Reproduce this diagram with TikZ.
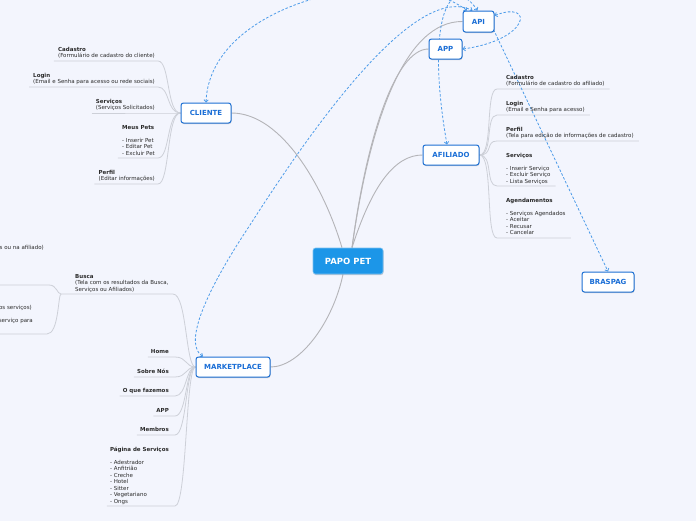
\documentclass[tikz,border=0pt]{standalone}
\usepackage{fontspec}
\setmainfont{DejaVu Sans}
\usetikzlibrary{arrows.meta,shadows,calc}
\definecolor{bgc}{HTML}{F3F5FD}
\definecolor{nodeb}{HTML}{1C6FD3}
\definecolor{nodet}{HTML}{1A6ED6}
\definecolor{rootc}{HTML}{1C96E8}
\definecolor{mainl}{HTML}{B4B4B8}
\definecolor{brl}{HTML}{CDD0D8}
\definecolor{relc}{HTML}{4C9BE9}
\definecolor{txtc}{HTML}{2A2A2A}
\pgfdeclarelayer{bg}
\pgfsetlayers{bg,main}
\tikzset{
 topic/.style={draw=nodeb, line width=1pt, fill=white, rounded corners=2.5pt, text=nodet,
   font=\fontsize{7}{8}\selectfont\bfseries, inner sep=0pt,
   drop shadow={shadow xshift=0.5pt, shadow yshift=-1pt, opacity=0.3, fill=black!60}},
 rootnode/.style={draw=rootc!60!white, line width=0.6pt, fill=rootc, rounded corners=2.5pt, text=white,
   font=\fontsize{8.5}{10}\selectfont\bfseries, inner sep=0pt,
   drop shadow={shadow xshift=0.5pt, shadow yshift=-1pt, opacity=0.3, fill=black!60}},
 txt/.style={font=\fontsize{5.5}{6.5}\selectfont, text=txtc, inner sep=0pt, align=left},
 mainedge/.style={draw=mainl, line width=0.9pt},
 brline/.style={draw=brl, line width=0.8pt},
 rel/.style={draw=relc, line width=0.8pt, dash pattern=on 2.5pt off 1.8pt},
 twoway/.style={{Straight Barb[length=2.2pt,width=4.4pt]}-{Straight Barb[length=2.2pt,width=4.4pt]}},
 oneway/.style={-{Straight Barb[length=2.2pt,width=4.4pt]}},
}
\begin{document}
\begin{tikzpicture}[x=1pt,y=-1pt]
\useasboundingbox (0,0) rectangle (696,520);

% ---------- main nodes
\node[rootnode, minimum width=70pt, minimum height=26pt] (pp) at (348,261) {PAPO PET};
\node[topic, minimum width=50pt, minimum height=20pt] (cli) at (206,113) {CLIENTE};
\node[topic, minimum width=74pt, minimum height=20pt] (mkt) at (233,367) {MARKETPLACE};
\node[topic, minimum width=56pt, minimum height=20pt] (afl) at (451,155) {AFILIADO};
\node[topic, minimum width=31pt, minimum height=21pt] (api) at (478.5,21.5) {API};
\node[topic, minimum width=33pt, minimum height=20pt] (app) at (445.5,49) {APP};
\node[topic, minimum width=52pt, minimum height=20pt] (brs) at (608,282) {BRASPAG};

% ---------- CLIENTE children
\node[txt, anchor=north east] (c1) at (155,46.8) {\textbf{Cadastro}\\(Formulário de cadastro do cliente)};
\node[txt, anchor=north east] (c2) at (155,72.8) {\textbf{Login}\\(Email e Senha para acesso ou rede sociais)};
\node[txt, anchor=north east] (c3) at (155,98.8) {\textbf{Serviços}\\(Serviços Solicitados)};
\node[txt, anchor=north east] (c4) at (155,124.8) {\textbf{Meus Pets}\\[6.5pt]- Inserir Pet\\- Editar Pet\\- Excluir Pet};
\node[txt, anchor=north east] (c5) at (155,169.8) {\textbf{Perfil}\\(Editar informações)};

% ---------- AFILIADO children
\node[txt, anchor=north west] (a1) at (506,74.8) {\textbf{Cadastro}\\(Formulário de cadastro do afiliado)};
\node[txt, anchor=north west] (a2) at (506,100.8) {\textbf{Login}\\(Email e Senha para acesso)};
\node[txt, anchor=north west] (a3) at (506,126.8) {\textbf{Perfil}\\(Tela para edição de informações de cadastro)};
\node[txt, anchor=north west] (a4) at (506,152.8) {\textbf{Serviços}\\[6.5pt]- Inserir Serviço\\- Excluir Serviço\\- Lista Serviços};
\node[txt, anchor=north west] (a5) at (506,197.8) {\textbf{Agendamentos}\\[6.5pt]- Serviços Agendados\\- Aceitar\\- Recusar\\- Cancelar};

% ---------- MARKETPLACE children
\node[txt, anchor=north west] (mb) at (75,273.8) {\textbf{Busca}\\(Tela com os resultados da Busca,\\Serviços ou Afiliados)};
\node[txt, anchor=north east] (m1) at (169,348.8) {\textbf{Home}};
\node[txt, anchor=north east] (m2) at (169,368.8) {\textbf{Sobre Nós}};
\node[txt, anchor=north east] (m3) at (169,387.8) {\textbf{O que fazemos}};
\node[txt, anchor=north east] (m4) at (169,407.8) {\textbf{APP}};
\node[txt, anchor=north east] (m5) at (169,426.8) {\textbf{Membros}};
\node[txt, anchor=north east] (m6) at (169,446.8) {\textbf{Página de Serviços}\\[6.5pt]- Adestrador\\- Anfitrião\\- Creche\\- Hotel\\- Sitter\\- Vegetariano\\- Ongs};

% ---------- Busca children (cut off at the left edge)
\node[txt, anchor=north east] (bx1) at (44,244.8) {s ou na afiliado)};
\node[txt, anchor=north east] (bx2) at (32,305.1) {os serviços)};
\node[txt, anchor=north east] (bx3) at (33,318.5) {serviço para};

% ---------- coordinates of underline ends
\coordinate (cu1) at (158,61);
\coordinate (cu2) at (158,87);
\coordinate (cu3) at (158,113);
\coordinate (cu4) at (158,158);
\coordinate (cu5) at (158,184);
\coordinate (au1) at (497,89);
\coordinate (au2) at (497,115);
\coordinate (au3) at (497,141);
\coordinate (au4) at (497,186);
\coordinate (au5) at (497,238);
\coordinate (mu1) at (175,357);
\coordinate (mu2) at (175,377);
\coordinate (mu3) at (175,396);
\coordinate (mu4) at (175,416);
\coordinate (mu5) at (175,435);
\coordinate (mu6) at (175,506);
\coordinate (bul) at (61,294);
\coordinate (bur) at (173,294);
\coordinate (bk1) at (49,285);
\coordinate (bk1w) at (-2,285);
\coordinate (bk2) at (47,334);
\coordinate (bk2w) at (-2,334);

\begin{pgfonlayer}{bg}
\fill[bgc] (-2,-2) rectangle (698,522);

% main edges
\draw[mainedge] ([xshift=-6pt]pp.north) .. controls (325,190) and (283,113) .. (cli.east);
\draw[mainedge] ([xshift=4pt]pp.north) .. controls (370,120) and (405,21) .. (api.west);
\draw[mainedge] ([xshift=4pt]pp.north) .. controls (366,140) and (395,49) .. (app.west);
\draw[mainedge] ([xshift=4pt]pp.north) .. controls (372,185) and (395,155) .. (afl.west);
\draw[mainedge] ([xshift=-5pt]pp.south) .. controls (333,322) and (300,367) .. (mkt.east);

% CLIENTE branches
\foreach \b/\u in {c1/cu1,c2/cu2,c3/cu3,c4/cu4,c5/cu5}{
  \draw[brline] ($(\b.west |- \u)+(-4,0)$) -- (\u) .. controls +(12,0) and +(-14,0) .. (cli.west);
}
% AFILIADO branches
\foreach \b/\u in {a1/au1,a2/au2,a3/au3,a4/au4,a5/au5}{
  \draw[brline] (afl.east) .. controls +(14,0) and +(-12,0) .. (\u) -- ($(\b.east |- \u)+(5,0)$);
}
% MARKETPLACE branches
\foreach \b/\u in {m1/mu1,m2/mu2,m3/mu3,m4/mu4,m5/mu5,m6/mu6}{
  \draw[brline] ($(\b.west |- \u)+(-3,0)$) -- (\u) .. controls +(12,0) and +(-10,0) .. (mkt.west);
}
\draw[brline] (bul) -- (bur) .. controls +(14,0) and +(-10,0) .. (mkt.west);
\draw[brline] (bul) .. controls +(-4,0) and +(8,0) .. (bk1) -- (bk1w);
\draw[brline] (bul) .. controls +(-3,0) and +(12,0) .. (bk2) -- (bk2w);

% relations (dashed)
\draw[rel, twoway] (cli.north) .. controls (210,0) and (400,-40) .. ([xshift=-11.5pt]api.north);
\draw[rel, twoway] ([xshift=-30pt]mkt.north) .. controls (185,345) and (200,300) .. (250,225)
      .. controls (330,100) and (420,-15) .. ([xshift=-6pt]api.north);
\draw[rel, twoway] ([xshift=-4pt]afl.north) .. controls (425,20) and (450,-30) .. ([xshift=-1pt]api.north);
\draw[rel, twoway] (app.east) .. controls (530,40) and (535,0) .. ([yshift=6pt]api.east);
\draw[rel, oneway] ([xshift=-1pt,yshift=3pt]api.south east) -- (brs.north);
\end{pgfonlayer}
\end{tikzpicture}
\end{document}
